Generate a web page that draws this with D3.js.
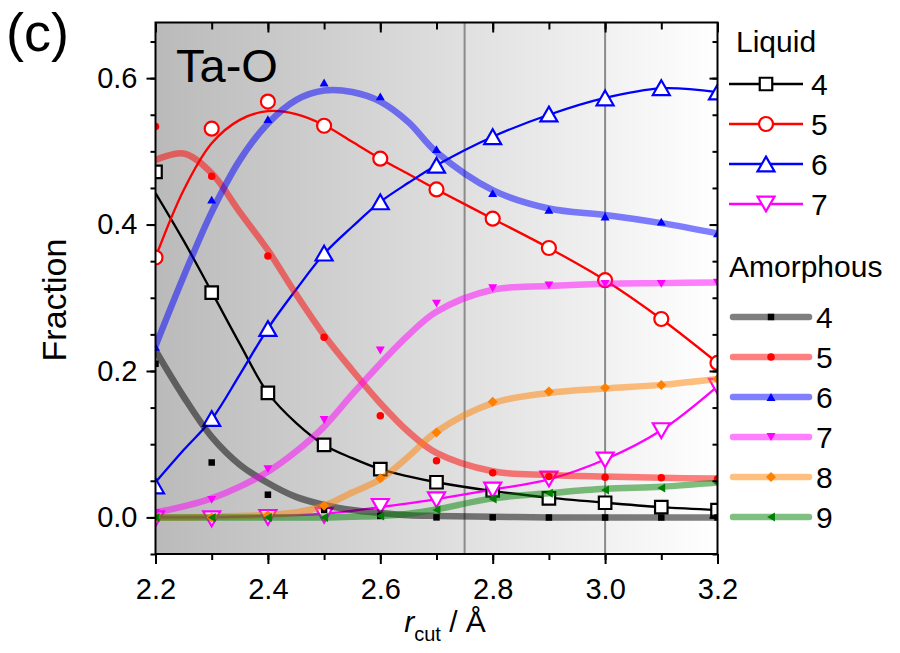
<!DOCTYPE html>
<html><head><meta charset="utf-8">
<script src="https://cdn.jsdelivr.net/npm/d3@7"></script>
<style>
body{margin:0;background:#fff}
svg{display:block}
text{font-family:"Liberation Sans", Arial, Helvetica, sans-serif}
</style>
</head><body>
<svg id="chart" width="900" height="653"></svg>
<script>
// ---------- data ----------
const rCut = [2.2, 2.3, 2.4, 2.5, 2.6, 2.7, 2.8, 2.9, 3.0, 3.1, 3.2];
const fitR = [2.2, 2.25, 2.3, 2.35, 2.4, 2.45, 2.5, 2.55, 2.6, 2.65, 2.7, 2.8, 2.9, 3.0, 3.1, 3.2];

// Liquid (open symbols)
const liquid4 = [0.472, 0.307, 0.170, 0.099, 0.066, 0.048, 0.037, 0.026, 0.020, 0.014, 0.010];
const liquid5 = [0.355, 0.531, 0.568, 0.535, 0.490, 0.448, 0.408, 0.368, 0.324, 0.271, 0.211];
const liquid6 = [0.043, 0.135, 0.258, 0.361, 0.431, 0.481, 0.520, 0.551, 0.573, 0.587, 0.581];
const liquid7 = [-0.002, -0.002, 0.000, 0.003, 0.015, 0.024, 0.0375, 0.0525, 0.0785, 0.1185, 0.179];
// Liquid fitted lines
const liquid4Fit = [0.443, 0.378, 0.308, 0.237, 0.170, 0.129, 0.099, 0.081, 0.066, 0.056, 0.048, 0.036, 0.027, 0.020, 0.014, 0.010];
const liquid5Fit = [0.355, 0.447, 0.511, 0.543, 0.555, 0.551, 0.536, 0.513, 0.490, 0.469, 0.448, 0.408, 0.368, 0.324, 0.271, 0.211];
const liquid6Fit = [0.048, 0.092, 0.134, 0.195, 0.258, 0.311, 0.360, 0.397, 0.431, 0.457, 0.481, 0.520, 0.550, 0.573, 0.586, 0.581];
const liquid7Fit = [0.000, 0.000, 0.000, 0.001, 0.002, 0.003, 0.005, 0.009, 0.014, 0.019, 0.025, 0.038, 0.052, 0.079, 0.119, 0.179];

// Amorphous (small filled symbols)
const amorph4 = [0.210, 0.075, 0.031, 0.010, 0.002, 0.000, 0.000, 0.000, 0.000, 0.000, 0.000];
const amorph5 = [0.534, 0.466, 0.357, 0.246, 0.139, 0.0775, 0.061, 0.0557, 0.0549, 0.054, 0.0526];
const amorph6 = [0.233, 0.434, 0.544, 0.594, 0.575, 0.503, 0.443, 0.420, 0.411, 0.404, 0.388];
const amorph7 = [0.006, 0.024, 0.066, 0.133, 0.228, 0.292, 0.313, 0.317, 0.319, 0.319, 0.3205];
const amorph8 = [0.000, 0.000, 0.003, 0.016, 0.0535, 0.116, 0.158, 0.172, 0.177, 0.181, 0.189];
const amorph9 = [0.000, 0.000, 0.000, 0.000, 0.002, 0.010, 0.025, 0.033, 0.0375, 0.040, 0.0467];
// Amorphous fitted lines
const amorph4Fit = [0.228, 0.165, 0.110, 0.072, 0.047, 0.028, 0.017, 0.010, 0.006, 0.003, 0.002, 0.001, 0.000, 0.000, 0.000, 0.000];
const amorph5Fit = [0.488, 0.497, 0.470, 0.417, 0.365, 0.305, 0.249, 0.201, 0.156, 0.117, 0.088, 0.063, 0.058, 0.0557, 0.054, 0.053];
const amorph6Fit = [0.234, 0.329, 0.417, 0.488, 0.538, 0.570, 0.583, 0.581, 0.568, 0.540, 0.499, 0.447, 0.422, 0.413, 0.402, 0.388];
const amorph7Fit = [0.0066, 0.015, 0.026, 0.042, 0.0625, 0.090, 0.124, 0.168, 0.210, 0.249, 0.281, 0.311, 0.316, 0.319, 0.320, 0.321];
const amorph8Fit = [0.000, 0.000, 0.001, 0.002, 0.0034, 0.0066, 0.016, 0.034, 0.052, 0.083, 0.117, 0.156, 0.170, 0.176, 0.181, 0.189];
const amorph9Fit = [0.000, 0.000, 0.000, 0.000, 0.000, 0.000, 0.000, 0.001, 0.002, 0.005, 0.011, 0.026, 0.033, 0.039, 0.042, 0.0475];

const liquidLabels = ["4", "5", "6", "7"];
const amorphLabels = ["4", "5", "6", "7", "8", "9"];
const xTickLabels = ["2.2", "2.4", "2.6", "2.8", "3.0", "3.2"];
const yTickLabels = ["0.0", "0.2", "0.4", "0.6"];
const refLines = [2.75, 3.0];

// ---------- styles ----------
const liquidSeries = [
  {label: liquidLabels[0], pts: liquid4, fit: liquid4Fit, color: "#000000", shape: "square"},
  {label: liquidLabels[1], pts: liquid5, fit: liquid5Fit, color: "#ff0000", shape: "circle"},
  {label: liquidLabels[2], pts: liquid6, fit: liquid6Fit, color: "#0000ff", shape: "triUp"},
  {label: liquidLabels[3], pts: liquid7, fit: liquid7Fit, color: "#ff00ff", shape: "triDown"}
];
const amorphSeries = [
  {label: amorphLabels[0], pts: amorph4, fit: amorph4Fit, color: "#000000", shape: "square"},
  {label: amorphLabels[1], pts: amorph5, fit: amorph5Fit, color: "#ff0000", shape: "circle"},
  {label: amorphLabels[2], pts: amorph6, fit: amorph6Fit, color: "#0000ff", shape: "triUp"},
  {label: amorphLabels[3], pts: amorph7, fit: amorph7Fit, color: "#ff00ff", shape: "triDown"},
  {label: amorphLabels[4], pts: amorph8, fit: amorph8Fit, color: "#ff8000", shape: "diamond"},
  {label: amorphLabels[5], pts: amorph9, fit: amorph9Fit, color: "#008000", shape: "triLeft"}
];

function shapePath(shape, s) {
  const h = s / 2;
  switch (shape) {
    case "square": return `M${-h},${-h}H${h}V${h}H${-h}Z`;
    case "circle": return `M${h},0A${h},${h} 0 1,1 ${-h},0A${h},${h} 0 1,1 ${h},0Z`;
    case "triUp": return `M0,${-h*0.87}L${h},${h*0.87}L${-h},${h*0.87}Z`;
    case "triDown": return `M0,${h*0.87}L${h},${-h*0.87}L${-h},${-h*0.87}Z`;
    case "diamond": return `M0,${-h}L${h},0L0,${h}L${-h},0Z`;
    case "triLeft": return `M${-h*0.87},0L${h*0.87},${-h}L${h*0.87},${h}Z`;
  }
}
const bigSize = {square: 12.5, circle: 14, triUp: 17, triDown: 17};
const smallSize = {square: 6.5, circle: 7.5, triUp: 9, triDown: 9, diamond: 10, triLeft: 9};

// ---------- layout ----------
const svg = d3.select("#chart");
const L = 155.5, R = 717.5, T = 22.5, B = 554;
const x = d3.scaleLinear().domain([2.2, 3.2]).range([L, R]);
const y = d3.scaleLinear().domain([-0.05, 0.676]).range([B, T]);

const defs = svg.append("defs");
const grad = defs.append("linearGradient").attr("id", "bg").attr("x1", "0").attr("x2", "1").attr("y1", "0").attr("y2", "0");
grad.append("stop").attr("offset", "0").attr("stop-color", "#bababa");
grad.append("stop").attr("offset", "1").attr("stop-color", "#ffffff");
defs.append("clipPath").attr("id", "clip").append("rect")
  .attr("x", L).attr("y", T).attr("width", R - L).attr("height", B - T);

svg.append("rect").attr("x", L).attr("y", T).attr("width", R - L).attr("height", B - T).attr("fill", "url(#bg)");

const plot = svg.append("g").attr("clip-path", "url(#clip)");

plot.selectAll("line.ref").data(refLines).enter().append("line")
  .attr("x1", d => x(d)).attr("x2", d => x(d)).attr("y1", T).attr("y2", B)
  .attr("stroke", "#8a8a8a").attr("stroke-width", 2);

const line = d3.line().x(d => x(d[0])).y(d => y(d[1])).curve(d3.curveCatmullRom.alpha(0.5));

// Liquid lines & markers
liquidSeries.forEach(s => {
  plot.append("path").attr("d", line(fitR.map((r, i) => [r, s.fit[i]])))
    .attr("fill", "none").attr("stroke", s.color).attr("stroke-width", 2.3);
});
liquidSeries.forEach(s => {
  plot.selectAll(null).data(rCut.map((r, i) => [r, s.pts[i]])).enter().append("path")
    .attr("d", shapePath(s.shape, bigSize[s.shape]))
    .attr("transform", d => `translate(${x(d[0])},${y(d[1])})`)
    .attr("fill", "#fff").attr("stroke", s.color).attr("stroke-width", 2.2);
});
// Amorphous bands & markers
amorphSeries.forEach(s => {
  plot.append("path").attr("d", line(fitR.map((r, i) => [r, s.fit[i]])))
    .attr("fill", "none").attr("stroke", s.color).attr("stroke-opacity", 0.5)
    .attr("stroke-width", 6.5).attr("stroke-linecap", "round");
});
amorphSeries.forEach(s => {
  plot.selectAll(null).data(rCut.map((r, i) => [r, s.pts[i]])).enter().append("path")
    .attr("d", shapePath(s.shape, smallSize[s.shape]))
    .attr("transform", d => `translate(${x(d[0])},${y(d[1])})`)
    .attr("fill", s.color);
});

// ---------- axes ----------
const fontAxis = 29;
const xMajor = xTickLabels.map(Number);
const xMinor = d3.range(0, 11).map(i => 2.2 + i * 0.1);
const yMajor = yTickLabels.map(Number);
const yMinor = d3.range(0, 15).map(i => -0.05 + i * 0.05);

function styleAxis(g) {
  g.select(".domain").remove();
  g.selectAll("line").attr("stroke", "#000").attr("stroke-width", 2);
  g.selectAll("text").attr("font-size", fontAxis).attr("fill", "#000")
    .attr("font-family", '"Liberation Sans", Arial, sans-serif');
}
// bottom
svg.append("g").attr("transform", `translate(0,${B})`)
  .call(d3.axisBottom(x).tickValues(xMinor).tickSize(6).tickFormat("")).call(styleAxis);
svg.append("g").attr("transform", `translate(0,${B})`)
  .call(d3.axisBottom(x).tickValues(xMajor).tickSize(10).tickPadding(14).tickFormat((d, i) => xTickLabels[i])).call(styleAxis);
// top (inward)
svg.append("g").attr("transform", `translate(0,${T})`)
  .call(d3.axisTop(x).tickValues(xMinor).tickSize(-7).tickFormat("")).call(styleAxis);
svg.append("g").attr("transform", `translate(0,${T})`)
  .call(d3.axisTop(x).tickValues(xMajor).tickSize(-10).tickFormat("")).call(styleAxis);
// left
svg.append("g").attr("transform", `translate(${L},0)`)
  .call(d3.axisLeft(y).tickValues(yMinor).tickSize(5).tickFormat("")).call(styleAxis);
svg.append("g").attr("transform", `translate(${L},0)`)
  .call(d3.axisLeft(y).tickValues(yMajor).tickSize(9).tickPadding(9).tickFormat((d, i) => yTickLabels[i])).call(styleAxis);
// right (inward)
svg.append("g").attr("transform", `translate(${R},0)`)
  .call(d3.axisRight(y).tickValues(yMinor).tickSize(-5).tickFormat("")).call(styleAxis);
svg.append("g").attr("transform", `translate(${R},0)`)
  .call(d3.axisRight(y).tickValues(yMajor).tickSize(-8).tickFormat("")).call(styleAxis);

svg.append("rect").attr("x", L).attr("y", T).attr("width", R - L).attr("height", B - T)
  .attr("fill", "none").attr("stroke", "#000").attr("stroke-width", 2);

// ---------- titles ----------
svg.append("text").attr("x", 6).attr("y", 51).attr("font-size", 54).text("(c)");
svg.append("text").attr("x", 176).attr("y", 82).attr("font-size", 47).text("Ta-O");
svg.append("text").attr("transform", "translate(66,300) rotate(-90)")
  .attr("text-anchor", "middle").attr("font-size", 34).text("Fraction");
const xt = svg.append("text").attr("x", 445).attr("y", 632).attr("text-anchor", "middle").attr("font-size", 30);
xt.append("tspan").attr("font-style", "italic").text("r");
xt.append("tspan").attr("font-size", 20).attr("dy", 9).text("cut");
xt.append("tspan").attr("dy", -9).text(" / Å");

// ---------- legend ----------
const leg = svg.append("g");
leg.append("text").attr("x", 736).attr("y", 52).attr("font-size", 30).text("Liquid");
liquidSeries.forEach((s, i) => {
  const yy = 84 + i * 40;
  leg.append("line").attr("x1", 729).attr("x2", 803).attr("y1", yy).attr("y2", yy)
    .attr("stroke", s.color).attr("stroke-width", 2.3);
  leg.append("path").attr("d", shapePath(s.shape, bigSize[s.shape]))
    .attr("transform", `translate(766,${yy})`).attr("fill", "#fff").attr("stroke", s.color).attr("stroke-width", 2.2);
  leg.append("text").attr("x", 811).attr("y", yy + 10.5).attr("font-size", 30).text(s.label);
});
leg.append("text").attr("x", 729).attr("y", 277).attr("font-size", 30).text("Amorphous");
amorphSeries.forEach((s, i) => {
  const yy = 317 + i * 40;
  leg.append("line").attr("x1", 733).attr("x2", 809).attr("y1", yy).attr("y2", yy)
    .attr("stroke", s.color).attr("stroke-opacity", 0.5).attr("stroke-width", 6.5).attr("stroke-linecap", "round");
  leg.append("path").attr("d", shapePath(s.shape, smallSize[s.shape]))
    .attr("transform", `translate(771,${yy})`).attr("fill", s.color);
  leg.append("text").attr("x", 816).attr("y", yy + 10.5).attr("font-size", 30).text(s.label);
});
</script>
</body></html>
